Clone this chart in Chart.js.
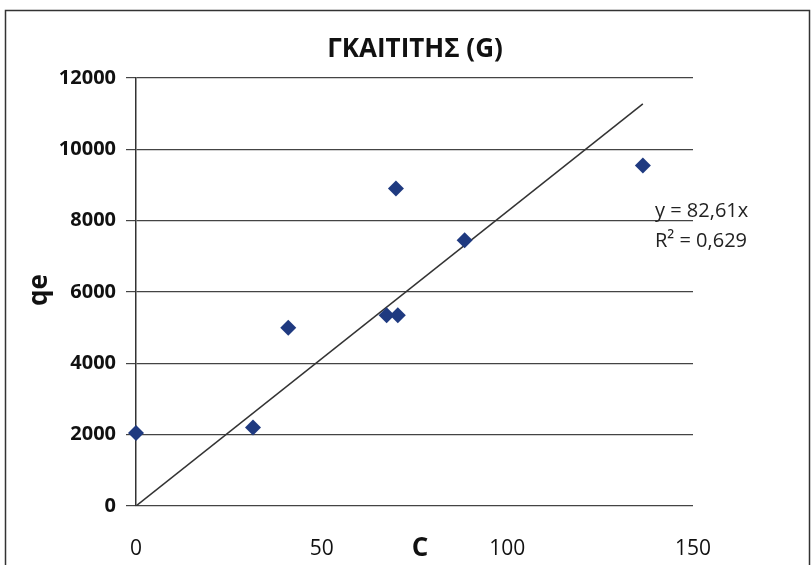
<!DOCTYPE html>
<html>
<head>
<meta charset="utf-8">
<script src="https://cdn.jsdelivr.net/npm/chart.js@4.4.0/dist/chart.umd.min.js"></script>
<style>
  html, body { margin: 0; padding: 0; background: #fff; }
  #wrap { width: 812px; height: 565px; position: relative; }
</style>
</head>
<body>
<div id="wrap"><canvas id="chart" width="812" height="565"></canvas></div>
<script>
// data
var cValues = [0, 31.5, 41, 67.5, 70.5, 70, 88.5, 136.5];
var qeValues = [2050, 2200, 5000, 5350, 5350, 8900, 7450, 9550];
var trendX = [0, 136.5];
var trendY = [0, 11276];
var xTicks = [0, 50, 100, 150];
var yTicks = [0, 2000, 4000, 6000, 8000, 10000, 12000];

var chartTitle = 'ΓΚΑΙΤΙΤΗΣ (G)';
var xTitle = 'C';
var yTitle = 'qe';
var eqLines = ['y = 82,61x', 'R² = 0,629'];

var font = '"Open Sans", "DejaVu Sans", sans-serif';

var points = cValues.map(function(c, i) { return { x: c, y: qeValues[i] }; });
var trend = trendX.map(function(c, i) { return { x: c, y: trendY[i] }; });

var extras = {
  id: 'extras',
  afterDraw: function(chart) {
    var ctx = chart.ctx;
    ctx.save();
    // outer frame
    ctx.strokeStyle = '#333';
    ctx.lineWidth = 1.5;
    ctx.strokeRect(5.5, 10.5, 804, 560);
    // title
    ctx.fillStyle = '#111';
    ctx.textAlign = 'center';
    ctx.textBaseline = 'middle';
    ctx.font = 'bold 26px ' + font;
    ctx.fillText(chartTitle, 415, 50);
    // x axis title sits beside the tick labels
    ctx.font = 'bold 26px ' + font;
    ctx.fillText(xTitle, 420, 549);
    // y axis title
    ctx.save();
    ctx.translate(40, 290);
    ctx.rotate(-Math.PI / 2);
    ctx.font = 'bold 26px ' + font;
    ctx.fillText(yTitle, 0, 0);
    ctx.restore();
    // trendline equation
    ctx.textAlign = 'left';
    ctx.font = '20px ' + font;
    ctx.fillStyle = '#222';
    ctx.fillText(eqLines[0], 655, 211);
    ctx.fillText(eqLines[1], 655, 241);
    ctx.restore();
  }
};

new Chart(document.getElementById('chart'), {
  type: 'scatter',
  data: {
    datasets: [{
      label: 'qe',
      data: points,
      pointStyle: 'rectRot',
      pointRadius: 8,
      pointHoverRadius: 8,
      backgroundColor: '#1f3a80',
      borderColor: '#1f3a80',
      borderWidth: 0,
      clip: false,
      order: 1
    }, {
      label: 'trend',
      type: 'line',
      data: trend,
      borderColor: '#333',
      borderWidth: 1.5,
      pointRadius: 0,
      fill: false,
      order: 2
    }]
  },
  options: {
    responsive: false,
    animation: false,
    layout: { padding: { left: 0, right: 119, top: 78, bottom: 0 } },
    plugins: {
      legend: { display: false },
      tooltip: { enabled: false }
    },
    scales: {
      x: {
        type: 'linear',
        min: 0,
        max: 150,
        afterBuildTicks: function(s) { s.ticks = xTicks.map(function(v) { return { value: v }; }); },
        afterFit: function(s) { s.height = 59; },
        grid: { display: false },
        border: { display: false },
        ticks: {
          color: '#111',
          font: { family: font, size: 21 },
          padding: 22,
          callback: function(v) { return String(v); }
        }
      },
      y: {
        type: 'linear',
        min: 0,
        max: 12000,
        afterBuildTicks: function(s) { s.ticks = yTicks.map(function(v) { return { value: v }; }); },
        afterFit: function(s) { s.width = 136; },
        grid: { color: '#444', lineWidth: 1.2, tickLength: 10, tickColor: '#444' },
        border: { color: '#333', width: 1.5 },
        ticks: {
          color: '#111',
          font: { family: font, size: 20, weight: 'bold' },
          padding: 10,
          callback: function(v) { return String(v); }
        }
      }
    }
  },
  plugins: [extras]
});
</script>
</body>
</html>
